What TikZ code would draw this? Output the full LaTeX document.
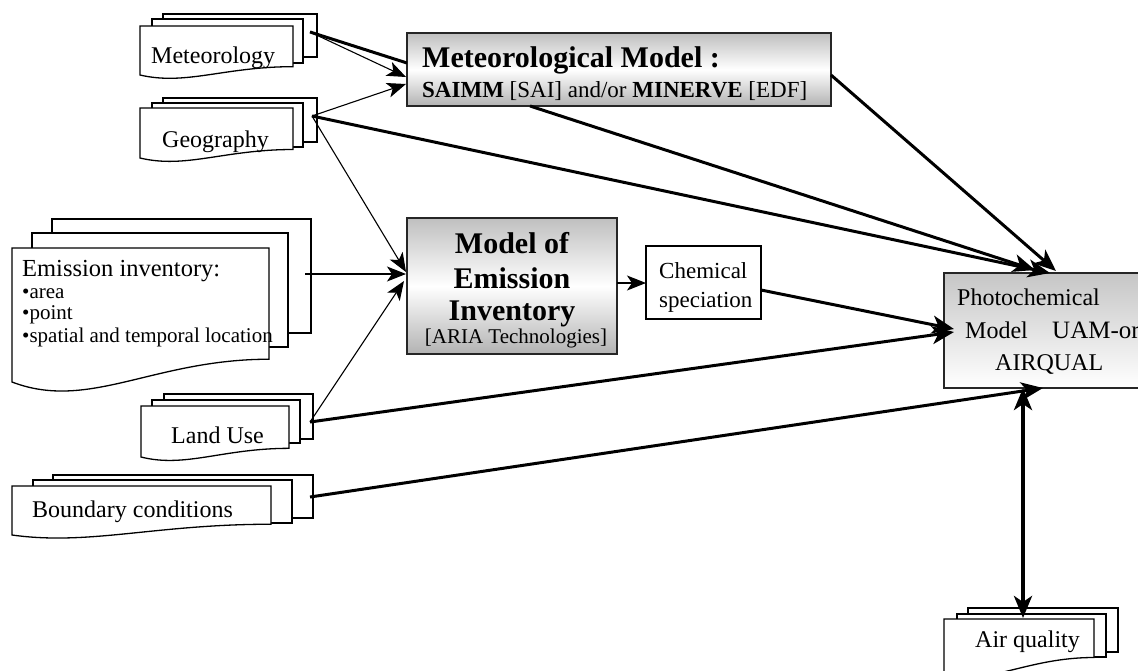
\documentclass[tikz,border=0pt]{standalone}
\usepackage{fontspec}
\setmainfont{Liberation Serif}
\usetikzlibrary{arrows.meta}
\newcommand\fs[1]{\fontsize{#1}{#1}\selectfont}
\newcommand\backpage[4]{\draw[page] (#1,#2) rectangle (#3,#4);}
\newcommand\frontpage[5][0.17]{\draw[page] (#2,#3) -- (#4,#3) -- (#4,{#5-#1*(#5-#3)}) .. controls ({#2+0.55*(#4-#2)},{#5-#1*(#5-#3)}) and ({#2+0.3*(#4-#2)},{#5+0.22*(#5-#3)}) .. (#2,#5) -- cycle;}
\tikzset{
 page/.style={draw=black, line width=1.3pt, fill=white},
 modelbox/.style={draw=black!85, line width=1.5pt, top color=gray!50, bottom color=gray!60, middle color=white, inner sep=0pt},
 photobox/.style={draw=black!85, line width=1.5pt, top color=gray!45, bottom color=white, inner sep=0pt},
 plainbox/.style={draw=black, line width=1.3pt, fill=white, inner sep=0pt},
 lbl/.style={inner sep=0pt, anchor=base west, font=\fs{24}},
 clbl/.style={inner sep=0pt, anchor=base, font=\fs{24}},
 thinarr/.style={line width=1.1pt, -{Stealth[length=19pt,width=15pt,inset=5pt]}},
 thickarr/.style={line width=3pt, -{Stealth[length=22pt,width=18pt,inset=6pt]}},
 thickline/.style={line width=3pt},
 dblarr/.style={line width=4.5pt, {Stealth[length=22pt,width=18pt,inset=6pt]}-{Stealth[length=22pt,width=18pt,inset=6pt]}},
}
\begin{document}
\begin{tikzpicture}[x=1pt,y=-1pt]
\clip (0,0) rectangle (1138,670);
\fill[white] (0,0) rectangle (1138,670);
% ---- document stacks ----
% Meteorology
\backpage{163}{14}{317}{57}
\backpage{152}{19}{303}{63}
\frontpage{140}{26}{293}{75}
\node[lbl] (meteo) at (151,63) {Meteorology};
% Geography
\backpage{163}{98}{317}{142}
\backpage{152}{103}{303}{147}
\frontpage{140}{108}{293}{158}
\node[lbl] (geo) at (162,147) {Geography};
% Emission inventory
\backpage{52}{219}{311}{333}
\backpage{32}{233}{288}{347}
\frontpage{12}{248}{269}{382}
\node[lbl, font=\fs{24.5}] (emi) at (22,276) {Emission inventory:};
\node[lbl, font=\fs{21}] (emia) at (22,298) {•area};
\node[lbl, font=\fs{21}] (emip) at (22,319) {•point};
\node[lbl, font=\fs{21}] (emis) at (22,342) {•spatial and temporal location};
% Land Use
\backpage{164}{394}{313}{439}
\backpage{152}{400}{300}{443}
\frontpage{141}{406}{289}{457}
\node[lbl] (lu) at (171,443) {Land Use};
% Boundary conditions
\backpage{53}{475}{313}{518}
\backpage{33}{480}{292}{523}
\frontpage[0.22]{12}{486}{271}{535}
\node[lbl] (bc) at (32,517) {Boundary conditions};
% Air quality
\backpage{968}{608}{1118}{652}
\backpage{957}{614}{1106}{657}
\frontpage[0.3]{944}{619}{1094}{674}
\node[lbl] (aq) at (975,647) {Air quality};
% ---- model boxes ----
\node[modelbox, minimum width=424pt, minimum height=73pt] (metmodel) at (619,69.5) {};
\node[lbl, font=\fs{30}\bfseries] (mm1) at (422,67) {Meteorological Model :};
\node[lbl, font=\fs{23}] (mm2) at (422,97) {\textbf{SAIMM} [SAI] and/or \textbf{MINERVE} [EDF]};
\node[modelbox, minimum width=210pt, minimum height=136pt] (emimodel) at (512,286) {};
\node[clbl, font=\fs{30}\bfseries] (em1) at (512,253) {Model of};
\node[clbl, font=\fs{30}\bfseries] (em2) at (512,288) {Emission};
\node[clbl, font=\fs{30}\bfseries] (em3) at (512,320) {Inventory};
\node[clbl, font=\fs{21}] (em4) at (516,343) {[ARIA Technologies]};
\node[plainbox, minimum width=115pt, minimum height=73pt] (chem) at (703.5,282.5) {};
\node[lbl, font=\fs{23}] (ch1) at (659,278) {Chemical};
\node[lbl, font=\fs{23}] (ch2) at (659,307) {speciation};
\node[photobox, minimum width=206pt, minimum height=115pt] (photo) at (1047,330.5) {};
\node[lbl] (ph1) at (957,305) {Photochemical};
\node[lbl] (ph2) at (965,338) {Model};
\node[lbl, font=\fs{25}] (ph3) at (1052,338) {UAM-or};
\node[lbl] (ph4) at (995,370) {AIRQUAL};
% ---- connector end points ----
\coordinate (metO) at (310,32);
\coordinate (geoO) at (312,116);
\coordinate (emiO) at (305,274);
\coordinate (luO) at (310,422);
\coordinate (bcO) at (310,497);
\coordinate (mmIn1) at (407,63);
\coordinate (mmIn2) at (406,77);
\coordinate (mmIn3) at (406,84);
\coordinate (mmOutR) at (831,75);
\coordinate (mmOutB) at (530,106);
\coordinate (emIn1) at (406,272);
\coordinate (emIn2) at (406,274);
\coordinate (emIn3) at (404,281);
\coordinate (emOut) at (617,283);
\coordinate (chIn) at (646,283);
\coordinate (chOut) at (761,290);
\coordinate (phTop1) at (1035,270);
\coordinate (phTop2) at (1050,273);
\coordinate (phTop3) at (1056,271);
\coordinate (phL1) at (954,329);
\coordinate (phL2) at (954,332);
\coordinate (phB) at (1043,388);
\coordinate (phAQ) at (1023,388);
\coordinate (aqTop) at (1023,618);
% ---- connectors ----
\draw[thickline] (metO) -- (mmIn1);
\draw[thinarr] (metO) -- (mmIn2);
\draw[thinarr] (geoO) -- (mmIn3);
\draw[thinarr] (geoO) -- (emIn1);
\draw[thinarr] (emiO) -- (emIn2);
\draw[thinarr] (luO) -- (emIn3);
\draw[thinarr] (emOut) -- (chIn);
\draw[thickarr] (mmOutB) -- (phTop1);
\draw[thickarr] (geoO) -- (phTop2);
\draw[thickarr] (mmOutR) -- (phTop3);
\draw[thickarr] (chOut) -- (phL1);
\draw[thickarr] (luO) -- (phL2);
\draw[thickarr] (bcO) -- (phB);
\draw[dblarr] (phAQ) -- (aqTop);
\end{tikzpicture}
\end{document}
